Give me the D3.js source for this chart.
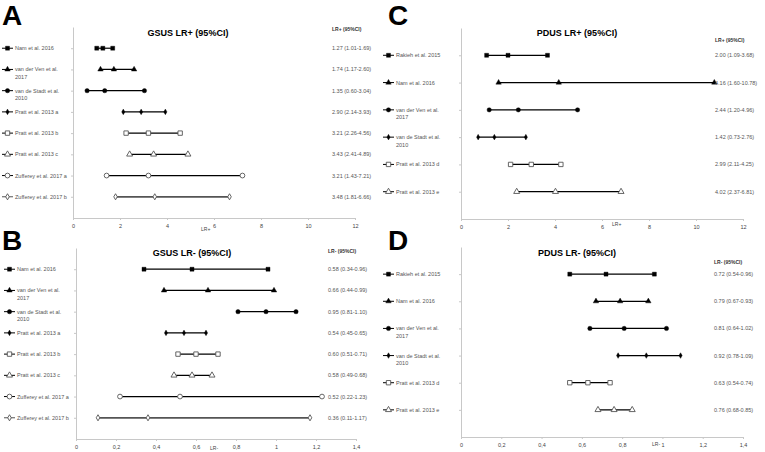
<!DOCTYPE html>
<html>
<head>
<meta charset="utf-8">
<script src="https://cdn.jsdelivr.net/npm/d3@7"></script>
<style>
  body { margin: 0; background: #fff; }
  text { font-family: "Liberation Sans", Arial, sans-serif; }
</style>
</head>
<body>
<svg width="765" height="452"></svg>
<script>
// GSUS studies (panels A, B)
const gsusStudies = [
  'Nam et al. 2016',
  'van der Ven et al.|2017',
  'van de Stadt  et al.|2010',
  'Pratt et al. 2013 a',
  'Pratt et al. 2013 b',
  'Pratt et al. 2013 c',
  'Zufferey et al. 2017 a',
  'Zufferey et al. 2017 b',
];
const gsusPos = [1.27, 1.74, 1.35, 2.90, 3.21, 3.43, 3.21, 3.48];
const gsusPosLow = [1.01, 1.17, 0.60, 2.14, 2.26, 2.41, 1.43, 1.81];
const gsusPosHigh = [1.69, 2.60, 3.04, 3.93, 4.56, 4.89, 7.21, 6.66];
const gsusNeg = [0.58, 0.66, 0.95, 0.54, 0.60, 0.58, 0.52, 0.36];
const gsusNegLow = [0.34, 0.44, 0.81, 0.45, 0.51, 0.49, 0.22, 0.11];
const gsusNegHigh = [0.96, 0.99, 1.10, 0.65, 0.71, 0.68, 1.23, 1.17];
const gsusMarkers = ['square', 'triangle', 'circle', 'diamond', 'squareO', 'triangleO', 'circleO', 'diamondO'];

// PDUS studies (panels C, D)
const pdusStudies = [
  'Rakieh et al. 2015',
  'Nam et al. 2016',
  'van der Ven et al.|2017',
  'van de Stadt  et al.|2010',
  'Pratt et al. 2013 d',
  'Pratt et al. 2013 e',
];
const pdusPos = [2.00, 4.16, 2.44, 1.42, 2.99, 4.02];
const pdusPosLow = [1.09, 1.60, 1.20, 0.73, 2.11, 2.37];
const pdusPosHigh = [3.68, 10.78, 4.96, 2.76, 4.25, 6.81];
const pdusNeg = [0.72, 0.79, 0.81, 0.92, 0.63, 0.76];
const pdusNegLow = [0.54, 0.67, 0.64, 0.78, 0.54, 0.68];
const pdusNegHigh = [0.96, 0.93, 1.02, 1.09, 0.74, 0.85];
const pdusMarkers = ['square', 'triangle', 'circle', 'diamond', 'squareO', 'triangleO'];

const posTicks = [0, 2, 4, 6, 8, 10, 12];
const negTicks = [0, 0.2, 0.4, 0.6, 0.8, 1, 1.2, 1.4];

const svg = d3.select('svg');
const comma = d => String(d).replace('.', ',');

const symbolFor = {
  square: d3.symbolSquare, triangle: d3.symbolTriangle,
  circle: d3.symbolCircle, diamond: d3.symbolDiamond,
};
const sizeFor = { square: 16, triangle: 13, circle: 15, diamond: 9 };

const drawMarker = (g, kind, x, y) => {
  const hollow = kind.endsWith('O');
  const base = hollow ? kind.slice(0, -1) : kind;
  g.append('path')
    .attr('d', d3.symbol(symbolFor[base], sizeFor[base] * (hollow ? 1.2 : 1))())
    .attr('transform', `translate(${x},${y})`)
    .attr('fill', hollow ? '#fff' : '#000')
    .attr('stroke', hollow ? '#555' : '#000')
    .attr('stroke-width', hollow ? 0.9 : 0.4);
};

const drawPanel = p => {
  const g = svg.append('g');

  g.append('text')
    .attr('x', p.letterX).attr('y', p.letterY)
    .attr('font-size', 28).attr('font-weight', 'bold')
    .text(p.letter);

  const x = d3.scaleLinear().domain([0, p.ticks[p.ticks.length - 1]]).range([p.x0, p.x1]);
  const y = d3.scalePoint().domain(p.studies).range([p.yTop, p.yBottom]).padding(1);

  // axes
  const yAxis = g.append('g')
    .attr('transform', `translate(${p.x0},0)`)
    .call(d3.axisLeft(y).tickSize(2).tickSizeOuter(0).tickFormat(''));
  const xAxis = g.append('g')
    .attr('transform', `translate(0,${p.yBottom})`)
    .call(d3.axisBottom(x).tickValues(p.ticks).tickSize(2).tickSizeOuter(0).tickFormat(p.fmt));
  [yAxis, xAxis].forEach(a => {
    a.selectAll('path, line').attr('stroke', '#c8c8c8');
    a.selectAll('text').attr('font-size', 5.5).attr('fill', '#444')
      .attr('font-family', '"Liberation Sans", Arial, sans-serif');
  });
  xAxis.selectAll('text').attr('dy', '0.9em');

  g.append('text')
    .attr('x', p.axisLabelX).attr('y', p.axisLabelY)
    .attr('font-size', 5).attr('fill', '#444')
    .text(p.axisLabel);

  g.append('text')
    .attr('x', p.titleX).attr('y', p.titleY)
    .attr('text-anchor', 'middle')
    .attr('font-size', 9).attr('font-weight', 'bold')
    .text(p.title);

  g.append('text')
    .attr('x', p.valueX).attr('y', p.headerY)
    .attr('font-size', 5).attr('font-weight', 'bold').attr('fill', '#333')
    .text(p.header);

  p.studies.forEach((s, i) => {
    const yy = y(s);
    const kind = p.markers[i];
    const lineColor = kind === 'diamondO' ? '#555' : '#000';
    const lineWidth = kind === 'diamondO' ? 1.8 : 1.2;

    // legend sample + label
    g.append('line')
      .attr('x1', p.legendX).attr('x2', p.legendX + 11)
      .attr('y1', yy).attr('y2', yy)
      .attr('stroke', lineColor).attr('stroke-width', 1);
    drawMarker(g, kind, p.legendX + 5.5, yy);
    const parts = s.split('|');
    parts.forEach((t, k) => {
      g.append('text')
        .attr('x', p.legendX + 13).attr('y', yy + 2 + k * 7.5)
        .attr('font-size', 5.5).attr('fill', '#555')
        .text(t);
    });

    // CI line + markers
    g.append('line')
      .attr('x1', x(p.lo[i])).attr('x2', x(p.hi[i]))
      .attr('y1', yy).attr('y2', yy)
      .attr('stroke', lineColor).attr('stroke-width', lineWidth);
    [p.lo[i], p.est[i], p.hi[i]].forEach(v => drawMarker(g, kind, x(v), yy));

    g.append('text')
      .attr('x', p.valueX).attr('y', yy + 2)
      .attr('font-size', 5.5).attr('fill', '#555')
      .text(`${p.est[i].toFixed(2)} (${p.lo[i].toFixed(2)}-${p.hi[i].toFixed(2)})`);
  });
};

drawPanel({
  letter: 'A', letterX: 2, letterY: 25,
  title: 'GSUS LR+ (95%CI)', titleX: 188, titleY: 36,
  header: 'LR+ (95%CI)', headerY: 31,
  studies: gsusStudies, est: gsusPos, lo: gsusPosLow, hi: gsusPosHigh, markers: gsusMarkers,
  ticks: posTicks, fmt: comma,
  x0: 73, x1: 355, yTop: 27, yBottom: 218,
  axisLabel: 'LR+', axisLabelX: 201, axisLabelY: 231,
  valueX: 332, legendX: 2,
});
drawPanel({
  letter: 'B', letterX: 2, letterY: 250,
  title: 'GSUS LR- (95%CI)', titleX: 192, titleY: 256,
  header: 'LR- (95%CI)', headerY: 253,
  studies: gsusStudies, est: gsusNeg, lo: gsusNegLow, hi: gsusNegHigh, markers: gsusMarkers,
  ticks: negTicks, fmt: comma,
  x0: 76, x1: 356, yTop: 248, yBottom: 439,
  axisLabel: 'LR-', axisLabelX: 210, axisLabelY: 450,
  valueX: 328, legendX: 4,
});
drawPanel({
  letter: 'C', letterX: 388, letterY: 25,
  title: 'PDUS LR+ (95%CI)', titleX: 577, titleY: 36,
  header: 'LR+ (95%CI)', headerY: 42,
  studies: pdusStudies, est: pdusPos, lo: pdusPosLow, hi: pdusPosHigh, markers: pdusMarkers,
  ticks: posTicks, fmt: comma,
  x0: 461, x1: 743, yTop: 28, yBottom: 219,
  axisLabel: 'LR+', axisLabelX: 612, axisLabelY: 226,
  valueX: 715, legendX: 383,
});
drawPanel({
  letter: 'D', letterX: 388, letterY: 250,
  title: 'PDUS LR- (95%CI)', titleX: 577, titleY: 256,
  header: 'LR- (95%CI)', headerY: 264,
  studies: pdusStudies, est: pdusNeg, lo: pdusNegLow, hi: pdusNegHigh, markers: pdusMarkers,
  ticks: negTicks, fmt: comma,
  x0: 461, x1: 743, yTop: 247, yBottom: 437,
  axisLabel: 'LR-', axisLabelX: 652, axisLabelY: 446,
  valueX: 714, legendX: 383,
});
</script>
</body>
</html>
